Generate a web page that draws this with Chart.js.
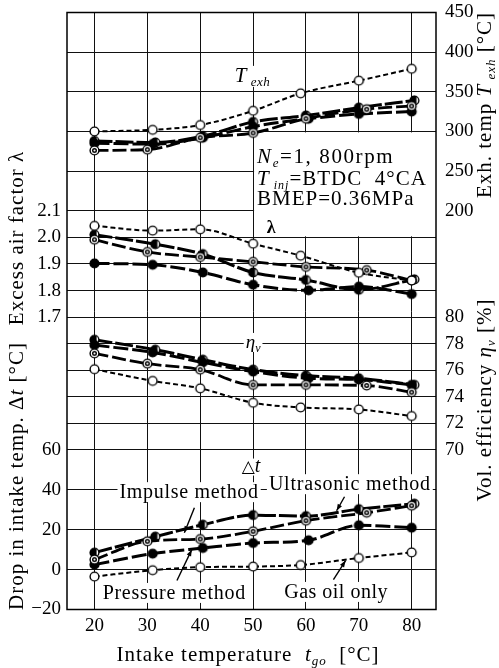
<!DOCTYPE html>
<html>
<head>
<meta charset="utf-8">
<script src="https://cdn.jsdelivr.net/npm/chart.js@4.4.1/dist/chart.umd.min.js"></script>
<style>
  html, body { margin: 0; padding: 0; background: #fff; }
</style>
</head>
<body>
<canvas id="chart" width="499" height="668"></canvas>
<script>
// intake temperature t_go (°C) for each series
const xGas = [20, 31, 40, 50, 59, 70, 80];
const xImp = [20, 30, 40, 50, 60, 71.5, 80];
const xPre = [20, 31, 40.5, 50, 60.5, 70, 80];
const xUlt = [20, 31.5, 40.5, 50, 60, 70, 80.5];

// exhaust temperature T_exh (°C)
const texhGas = [300, 302, 308, 326, 348, 364, 379];
const texhImp = [276, 277, 292, 298, 316, 328, 332];
const texhPre = [285, 284, 292, 306, 316, 322, 325];
const texhUlt = [288, 286, 294, 312, 320, 330, 339];

// excess air factor λ
const lamGas = [2.043, 2.025, 2.030, 1.976, 1.931, 1.867, 1.838];
const lamImp = [1.991, 1.945, 1.926, 1.908, 1.889, 1.877, 1.838];
const lamPre = [1.902, 1.897, 1.868, 1.822, 1.801, 1.815, 1.787];
const lamUlt = [2.010, 1.974, 1.937, 1.868, 1.840, 1.803, 1.842];

// volumetric efficiency η_v (%)
const etaGas = [76.08, 75.2, 74.64, 73.55, 73.2, 73.05, 72.55];
const etaImp = [77.28, 76.5, 76.05, 74.9, 74.9, 74.85, 74.35];
const etaPre = [77.9, 77.35, 76.6, 75.9, 75.4, 75.3, 74.9];
const etaUlt = [78.3, 77.55, 76.8, 76.05, 75.6, 75.4, 74.9];

// drop in intake temperature Δt (°C)
const dtGas = [-3.5, -0.3, 1.2, 1.5, 2.3, 5.8, 8.6];
const dtImp = [5, 14.2, 15.3, 19.2, 24.5, 28.5, 32];
const dtPre = [2.5, 8, 10.8, 13.3, 14.7, 22.2, 21];
const dtUlt = [8.5, 16.5, 22.5, 27.3, 26.8, 30.3, 33];

// tick labels
const tGoTicks = [20, 30, 40, 50, 60, 70, 80];
const texhTicks = [200, 250, 300, 350, 400, 450];
const lamTicks = [1.7, 1.8, 1.9, 2.0, 2.1];
const etaTicks = [70, 72, 74, 76, 78, 80];
const dtTicks = [-20, 0, 20, 40, 60];

const SERIF = "'Liberation Serif', 'DejaVu Serif', serif";

// marcadores: abierto, doble, lleno, medio lleno
function marker(kind) {
    const c = document.createElement('canvas');
    c.width = 13; c.height = 13;
    const g = c.getContext('2d');
    g.lineWidth = 1.4;
    g.strokeStyle = '#000';
    g.fillStyle = kind === 'full' ? '#000' : '#fff';
    g.beginPath();
    g.arc(6.5, 6.5, 4.4, 0, Math.PI * 2);
    g.fill();
    g.stroke();
    if (kind === 'double') {
        g.beginPath();
        g.arc(6.5, 6.5, 1.8, 0, Math.PI * 2);
        g.stroke();
    }
    if (kind === 'half') {
        g.fillStyle = '#000';
        g.beginPath();
        g.arc(6.5, 6.5, 4.6, Math.PI * 0.35, Math.PI * 1.65);
        g.closePath();
        g.fill();
    }
    return c;
}

const styles = {
    gas: { dash: [5, 3], width: 2, point: marker('open') },
    imp: { dash: [14, 4], width: 2.8, point: marker('double') },
    pre: { dash: [15, 4], width: 3, point: marker('full') },
    ult: { dash: [18, 3], width: 3, point: marker('half') }
};

function serie(label, xs, ys, axis, kind) {
    const st = styles[kind];
    return {
        label: label,
        data: xs.map((x, i) => ({ x: x, y: ys[i] })),
        yAxisID: axis,
        borderColor: '#000',
        borderWidth: st.width,
        borderDash: st.dash,
        pointStyle: st.point,
        pointRadius: 5,
        cubicInterpolationMode: 'monotone',
        fill: false
    };
}

const datasets = [
    serie('Gas oil only', xGas, texhGas, 'yT', 'gas'),
    serie('Impulse method', xImp, texhImp, 'yT', 'imp'),
    serie('Pressure method', xPre, texhPre, 'yT', 'pre'),
    serie('Ultrasonic method', xUlt, texhUlt, 'yT', 'ult'),
    serie('Gas oil only', xGas, lamGas, 'yL', 'gas'),
    serie('Impulse method', xImp, lamImp, 'yL', 'imp'),
    serie('Pressure method', xPre, lamPre, 'yL', 'pre'),
    serie('Ultrasonic method', xUlt, lamUlt, 'yL', 'ult'),
    serie('Gas oil only', xGas, etaGas, 'yE', 'gas'),
    serie('Impulse method', xImp, etaImp, 'yE', 'imp'),
    serie('Pressure method', xPre, etaPre, 'yE', 'pre'),
    serie('Ultrasonic method', xUlt, etaUlt, 'yE', 'ult'),
    serie('Gas oil only', xGas, dtGas, 'yD', 'gas'),
    serie('Impulse method', xImp, dtImp, 'yD', 'imp'),
    serie('Pressure method', xPre, dtPre, 'yD', 'pre'),
    serie('Ultrasonic method', xUlt, dtUlt, 'yD', 'ult')
];

// texto con cursiva y subíndices: partes [texto, tamaño, estilo, dy]
function rich(ctx, parts, x, y, opt) {
    opt = opt || {};
    ctx.save();
    ctx.translate(x, y);
    if (opt.rot) ctx.rotate(opt.rot);
    ctx.textBaseline = 'alphabetic';
    ctx.textAlign = 'left';
    if (opt.ls) ctx.letterSpacing = opt.ls + 'px';
    const font = p => `${p[2] || ''} ${p[1]}px ${SERIF}`;
    let w = 0;
    parts.forEach(p => { ctx.font = font(p); w += ctx.measureText(p[0]).width; });
    let cx = opt.align === 'left' ? 0 : -w / 2;
    if (opt.bg) {
        ctx.fillStyle = '#fff';
        ctx.fillRect(cx - 2, -parts[0][1] * 0.78, w + 4, parts[0][1] * 1.0);
    }
    ctx.fillStyle = '#000';
    parts.forEach(p => {
        ctx.font = font(p);
        ctx.fillText(p[0], cx, p[3] || 0);
        cx += ctx.measureText(p[0]).width;
    });
    ctx.restore();
}

function arrow(ctx, x1, y1, x2, y2) {
    const ang = Math.atan2(y2 - y1, x2 - x1);
    ctx.beginPath();
    ctx.moveTo(x1, y1);
    ctx.lineTo(x2, y2);
    ctx.stroke();
    ctx.beginPath();
    ctx.moveTo(x2, y2);
    ctx.lineTo(x2 - 7 * Math.cos(ang - 0.35), y2 - 7 * Math.sin(ang - 0.35));
    ctx.lineTo(x2 - 7 * Math.cos(ang + 0.35), y2 - 7 * Math.sin(ang + 0.35));
    ctx.closePath();
    ctx.fill();
}

const decor = {
    id: 'decor',
    beforeDatasetsDraw(chart) {
        const { ctx, chartArea: a, scales: s } = chart;
        const px = v => s.x.getPixelForValue(v);
        ctx.save();
        // recuadro de condiciones
        ctx.fillStyle = '#fff';
        const bx = px(50) + 1;
        const by = s.yT.getPixelForValue(300) + 1;
        const bb = s.yL.getPixelForValue(2.0) - 1;
        ctx.fillRect(bx, by, a.right - bx, bb - by);
        rich(ctx, [['N', 21, 'italic'], ['e', 13, 'italic', 4], ['=1, 800rpm', 21]], bx + 3, 163, { align: 'left', ls: 1.6 });
        rich(ctx, [['T', 21, 'italic'], [' inj', 12, 'italic', 4], ['=BTDC  4°CA', 21]], bx + 3, 185, { align: 'left', ls: 1 });
        rich(ctx, [['BMEP=0.36MPa', 21]], bx + 3, 205, { align: 'left', ls: 1 });
        rich(ctx, [['λ', 18, 'bold']], px(53.4), s.yL.getPixelForValue(2.017));

        // etiquetas de las curvas
        rich(ctx, [['T', 21, 'italic'], [' exh', 13, 'italic', 4]], px(49.9), s.yT.getPixelForValue(362), { bg: true, ls: 0.5 });
        rich(ctx, [['η', 19, 'italic'], ['v', 12, 'italic', 4]], px(50), s.yE.getPixelForValue(77.7), { bg: true });
        rich(ctx, [['△', 17], ['t', 20, 'italic']], px(49.6), s.yD.getPixelForValue(49), { bg: true });
        rich(ctx, [['Impulse method', 20]], px(37.9), s.yD.getPixelForValue(36), { bg: true, ls: 0.7 });
        rich(ctx, [['Ultrasonic method', 20]], px(68.3), s.yD.getPixelForValue(40), { bg: true, ls: 0.8 });
        rich(ctx, [['Pressure method', 20]], px(35.1), s.yD.getPixelForValue(-14.5), { bg: true, ls: 0.7 });
        rich(ctx, [['Gas oil only', 20]], px(65.7), s.yD.getPixelForValue(-14), { bg: true, ls: 0.5 });

        ctx.strokeStyle = '#000';
        ctx.fillStyle = '#000';
        ctx.lineWidth = 1.4;
        const py = v => s.yD.getPixelForValue(v);
        arrow(ctx, px(67.3), py(36.5), px(65.8), py(29.5));
        arrow(ctx, px(38.9), py(31), px(37.0), py(18.5));
        arrow(ctx, px(35.6), py(-5.5), px(38.4), py(10));
        arrow(ctx, px(65.2), py(-5), px(67.5), py(4.5));
        ctx.restore();
    },
    afterDraw(chart) {
        const { ctx, chartArea: a } = chart;
        ctx.save();
        ctx.strokeStyle = '#000';
        ctx.lineWidth = 1.5;
        ctx.strokeRect(a.left, a.top, a.right - a.left, a.bottom - a.top);
        const up = -Math.PI / 2;
        rich(ctx, [['Excess air factor λ', 21]], 23, 238, { rot: up, ls: 1 });
        rich(ctx, [['Drop in intake temp. Δ', 21], ['t', 21, 'italic'], [' [°C]', 21]], 23, 476, { rot: up, ls: 1 });
        rich(ctx, [['Exh. temp ', 21], ['T', 21, 'italic'], [' exh', 13, 'italic', 4], [' [°C]', 21]], 491, 105, { rot: up, ls: 1 });
        rich(ctx, [['Vol. efficiency ', 21], ['η', 21, 'italic'], ['v', 13, 'italic', 4], [' [%]', 21]], 491, 400, { rot: up, ls: 1 });
        rich(ctx, [['Intake temperature  ', 21], ['t', 21, 'italic'], ['go', 13, 'italic', 4], ['  [°C]', 21]], 248, 661, { ls: 1 });
        ctx.restore();
    }
};

// quita el relleno que Chart.js reserva para las etiquetas extremas
function sinRelleno(sc) {
    sc.paddingTop = 0;
    sc.paddingBottom = 0;
    sc.paddingLeft = 0;
    sc.paddingRight = 0;
}

// eje vertical apilado
function ejeY(pos, weight, stackWeight, ticks, fmt) {
    const visible = !!ticks;
    const eje = {
        type: 'linear',
        position: pos,
        stack: pos === 'left' ? 'L' : 'R',
        weight: weight,
        stackWeight: stackWeight,
        display: visible,
        border: { display: false },
        grid: { color: '#111', lineWidth: 1, drawTicks: false },
        afterFit: sc => { sc.width = pos === 'left' ? 67 : 63; sinRelleno(sc); }
    };
    if (visible) {
        eje.min = ticks[0];
        eje.max = ticks[ticks.length - 1];
        eje.afterBuildTicks = sc => { sc.ticks = ticks.map(v => ({ value: v })); };
        eje.ticks = {
            autoSkip: false,
            color: '#000',
            font: { family: SERIF, size: 19 },
            padding: pos === 'left' ? 6 : 9,
            callback: fmt
        };
    }
    return eje;
}

const ctx = document.getElementById('chart').getContext('2d');
new Chart(ctx, {
    type: 'line',
    data: { datasets: datasets },
    plugins: [decor],
    options: {
        responsive: false,
        animation: false,
        layout: { padding: { top: 12.5, left: 0, right: 0, bottom: 0 } },
        plugins: { legend: { display: false }, tooltip: { enabled: false } },
        scales: {
            x: {
                type: 'linear',
                min: 14.8,
                max: 84.6,
                border: { display: false },
                grid: { color: '#111', lineWidth: 1, drawTicks: false },
                afterBuildTicks: sc => { sc.ticks = tGoTicks.map(v => ({ value: v })); },
                afterFit: sc => { sc.height = 58.5; sinRelleno(sc); },
                ticks: { autoSkip: false, maxRotation: 0, color: '#000', font: { family: SERIF, size: 19 }, padding: 5 }
            },
            yT: ejeY('right', 1, 198, texhTicks, v => v),
            yRB: ejeY('right', 2, 106.5, null),
            yE: ejeY('right', 3, 132.5, etaTicks, v => v),
            yRD: ejeY('right', 4, 159.5, null),
            yLA: ejeY('left', 4, 198, null),
            yL: ejeY('left', 3, 106.5, lamTicks, v => v.toFixed(1)),
            yLC: ejeY('left', 2, 132.5, null),
            yD: ejeY('left', 1, 159.5, dtTicks, v => (v < 0 ? '−' + Math.abs(v) : v))
        }
    }
});
</script>
</body>
</html>
